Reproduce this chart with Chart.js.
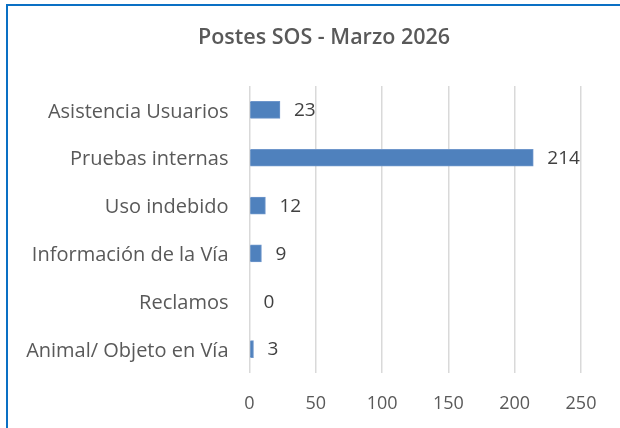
<!DOCTYPE html>
<html>
<head>
<meta charset="utf-8">
<script src="https://cdn.jsdelivr.net/npm/chart.js@4.4.1/dist/chart.umd.min.js"></script>
<style>
  html, body { margin: 0; padding: 0; background: #fff; overflow: hidden; }
  #wrap { position: relative; width: 620px; height: 428px; }
  #frame { position: absolute; left: 6px; top: 4px; width: 700px; height: 500px;
           border-left: 2px solid #0A70C4; border-top: 2px solid #0A70C4; box-sizing: border-box; }
  canvas { position: absolute; left: 0; top: 0; }
</style>
</head>
<body>
<div id="wrap">
  <div id="frame"></div>
  <canvas id="c" width="620" height="428"></canvas>
</div>
<script>
const chartTitle = "Postes SOS - Marzo 2026";
const categories = ["Asistencia Usuarios", "Pruebas internas", "Uso indebido", "Información de la Vía", "Reclamos", "Animal/ Objeto en Vía"];
const values = [23, 214, 12, 9, 0, 3];
const axisMin = 0, axisMax = 250, axisStep = 50;

const FONT = "'Open Sans', Lato, sans-serif";

const titlePlugin = {
  id: 'customTitle',
  afterDraw(chart) {
    const ctx = chart.ctx;
    ctx.save();
    ctx.font = "600 21.5px " + FONT;
    ctx.fillStyle = "#595959";
    ctx.textAlign = "center";
    ctx.textBaseline = "middle";
    ctx.fillText(chartTitle, 324, 38);
    ctx.restore();
  }
};

const valueLabels = {
  id: 'valueLabels',
  afterDatasetsDraw(chart) {
    const ctx = chart.ctx;
    const meta = chart.getDatasetMeta(0);
    ctx.save();
    ctx.font = "19px " + FONT;
    ctx.fillStyle = "#404040";
    ctx.textAlign = "left";
    ctx.textBaseline = "middle";
    meta.data.forEach((bar, i) => {
      ctx.fillText(String(values[i]), bar.x + 14, bar.y + 1);
    });
    ctx.restore();
  }
};

new Chart(document.getElementById('c'), {
  type: 'bar',
  data: {
    labels: categories,
    datasets: [{
      data: values,
      backgroundColor: '#4F81BD',
      borderColor: '#6E96CB',
      borderWidth: 1,
      barThickness: 17
    }]
  },
  options: {
    indexAxis: 'y',
    responsive: false,
    animation: false,
    devicePixelRatio: 1,
    layout: { padding: { top: 86, right: 39, left: 0, bottom: 0 } },
    plugins: { legend: { display: false }, title: { display: false }, tooltip: { enabled: false } },
    scales: {
      x: {
        min: axisMin, max: axisMax,
        ticks: { stepSize: axisStep, color: '#595959', font: { family: FONT, size: 18 }, padding: 20 },
        grid: { color: '#D9D9D9', lineWidth: 1.5, drawTicks: false },
        border: { display: false },
        afterFit(scale) { scale.height = 55; }
      },
      y: {
        ticks: { color: '#595959', font: { family: FONT, size: 20 }, padding: 21, labelOffset: 2 },
        grid: { display: false, drawTicks: false },
        border: { display: false },
        afterFit(scale) { scale.width = 249.5; }
      }
    }
  },
  plugins: [titlePlugin, valueLabels]
});
</script>
</body>
</html>
